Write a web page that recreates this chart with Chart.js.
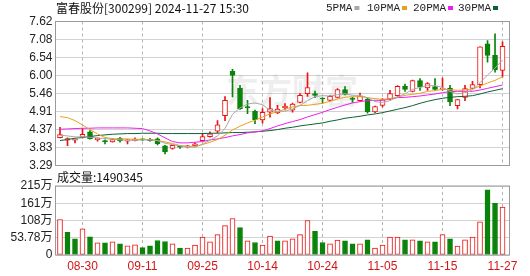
<!DOCTYPE html>
<html>
<head>
<meta charset="utf-8">
<script src="https://cdn.jsdelivr.net/npm/chart.js@4.4.1/dist/chart.umd.min.js"></script>
<style>
    body { margin: 0; background: #fff; }
    #wrap { position: relative; width: 530px; height: 276px; }
    #kline { position: absolute; left: 0; top: 0; }
    #vol { position: absolute; left: 0; top: 170px; }
</style>
</head>
<body>
<div id="wrap">
    <canvas id="kline" width="530" height="170"></canvas>
    <canvas id="vol" width="530" height="106"></canvas>
</div>
<script>
var title = '富春股份[300299] 2024-11-27 15:30';

var dates = ['08-27','08-28','08-29','08-30','09-02','09-03','09-04','09-05','09-06','09-09',
    '09-10','09-11','09-12','09-13','09-18','09-19','09-20','09-23','09-24','09-25',
    '09-26','09-27','09-30','10-08','10-09','10-10','10-11','10-14','10-15','10-16',
    '10-17','10-18','10-21','10-22','10-23','10-24','10-25','10-28','10-29','10-30',
    '10-31','11-01','11-04','11-05','11-06','11-07','11-08','11-11','11-12','11-13',
    '11-14','11-15','11-18','11-19','11-20','11-21','11-22','11-25','11-26','11-27'];

var tickDates = ['08-30','09-11','09-25','10-14','10-24','11-05','11-15','11-27'];

var opens = [4.13,4.05,4.05,4.14,4.30,4.07,4.03,4.00,4.11,4.02, 4.04,4.07,4.08,4.09,3.88,3.80,3.86,3.85,3.89,4.04,
    4.16,4.32,4.79,6.12,5.62,5.06,4.92,4.66,4.89,4.87, 5.02,4.95,5.19,5.45,5.45,5.31,5.25,5.34,5.57,5.30,
    5.24,5.29,4.90,5.10,5.29,5.39,5.68,5.52,5.84,5.62, 5.66,5.58,5.62,5.09,5.34,5.61,5.72,6.95,6.60,6.15];
var closes = [4.22,4.10,4.06,4.23,4.10,4.11,4.01,4.07,4.03,4.06, 4.08,4.06,4.04,3.95,3.70,3.90,3.84,3.88,3.94,4.16,
    4.24,4.51,5.25,6.00,5.00,5.02,4.67,4.89,5.00,4.99, 5.08,5.14,5.40,5.63,5.40,5.29,5.37,5.57,5.43,5.28,
    5.38,4.91,5.06,5.27,5.45,5.67,5.58,5.84,5.65,5.75, 5.58,5.59,5.20,5.27,5.60,5.72,6.86,6.60,6.17,6.87];
var highs = [4.44,4.12,4.09,4.41,4.34,4.12,4.06,4.10,4.14,4.08, 4.12,4.09,4.11,4.12,3.90,3.91,3.88,3.90,3.97,4.26,
    4.30,4.64,5.36,6.18,5.70,5.25,4.96,5.00,5.33,5.10, 5.15,5.17,5.45,6.08,5.53,5.33,5.39,5.60,5.66,5.34,
    5.47,5.32,5.08,5.30,5.55,5.69,5.74,5.86,5.90,5.78, 5.90,5.92,5.70,5.28,5.70,5.82,6.86,7.05,7.25,7.01];
var lows = [4.12,3.89,3.97,4.12,4.08,4.02,3.94,3.99,3.99,3.94, 4.03,4.04,4.02,3.91,3.64,3.78,3.80,3.82,3.87,4.03,
    4.14,4.28,4.64,5.35,4.98,4.85,4.55,4.56,4.74,4.85, 4.96,4.89,5.17,5.37,5.33,5.16,5.23,5.32,5.41,5.19,
    5.22,4.86,4.88,5.05,5.27,5.37,5.52,5.50,5.55,5.55, 5.56,5.55,5.09,4.99,5.24,5.60,5.62,6.40,6.10,5.95];

var ma5 = [4.20,4.18,4.15,4.15,4.14,4.12,4.10,4.08,4.06,4.05, 4.05,4.06,4.06,4.04,3.96,3.92,3.88,3.84,3.84,3.93,
    4.05,4.18,4.40,4.83,5.02,5.14,5.17,5.12,4.95,4.92, 4.92,4.99,5.10,5.24,5.36,5.39,5.38,5.42,5.45,5.40,
    5.40,5.33,5.21,5.19,5.24,5.35,5.45,5.58,5.64,5.69, 5.69,5.64,5.52,5.44,5.48,5.56,5.78,6.01,6.22,6.46];
var ma10 = [4.76,4.73,4.64,4.51,4.37,4.24,4.13,4.10,4.09,4.09, 4.08,4.08,4.07,4.04,4.00,3.95,3.89,3.87,3.87,3.92,
    3.99,4.07,4.20,4.36,4.47,4.57,4.65,4.75,4.84,4.91, 4.98,5.05,5.09,5.10,5.13,5.16,5.22,5.29,5.34,5.36,
    5.36,5.33,5.30,5.28,5.30,5.35,5.40,5.43,5.46,5.52, 5.54,5.58,5.57,5.55,5.56,5.59,5.68,5.77,5.85,5.96];
var ma20 = [4.38,4.39,4.40,4.41,4.41,4.42,4.42,4.42,4.42,4.42, 4.41,4.40,4.33,4.24,4.12,4.01,3.97,3.97,3.99,4.01,
    4.06,4.09,4.13,4.18,4.22,4.27,4.30,4.33,4.40,4.48, 4.55,4.61,4.67,4.75,4.82,4.89,4.97,5.04,5.11,5.17,
    5.21,5.24,5.25,5.25,5.29,5.33,5.34,5.36,5.38,5.41, 5.44,5.48,5.51,5.52,5.52,5.52,5.56,5.61,5.66,5.71];
var ma30 = [4.04,4.07,4.11,4.13,4.16,4.19,4.21,4.23,4.24,4.25, 4.25,4.26,4.26,4.26,4.25,4.25,4.25,4.25,4.25,4.25,
    4.26,4.26,4.27,4.28,4.28,4.29,4.30,4.32,4.34,4.37, 4.41,4.44,4.48,4.51,4.54,4.57,4.62,4.66,4.71,4.74,
    4.77,4.81,4.84,4.88,4.93,4.98,5.03,5.09,5.16,5.22, 5.27,5.31,5.34,5.36,5.37,5.39,5.44,5.50,5.55,5.60];

// volume in 万 (10k shares)
var volumes = [110.7,70.5,50.6,81.3,56.9,38,38,41,34.8,28.5, 31.6,23.1,28.5,45.2,42,34.8,21.2,21.2,30.7,56,
    41.1,63.3,91.7,113.9,85.4,44.3,38.9,30.7,59.2,44.3, 44.3,50.6,63.3,107.6,73.7,38.9,34.8,46.5,44.3,34.8,
    34.8,47.5,21.2,30.7,56,56,47.5,47.5,44.3,41.1, 41.1,63.3,50.6,27.5,47.5,56,103.4,203.4,161.3,149.0345];

var priceTicks = [3.29, 3.83, 4.37, 4.91, 5.46, 6.00, 6.54, 7.08, 7.62];
var volTicks = [0, 53.78, 107.56, 161.34, 215.12];
var volTickLabels = ['0', '53.78万', '108万', '161万', '215万'];

var maNames = ['5PMA', '10PMA', '20PMA', '30PMA'];
var maColors = ['#a8a8a8', '#e9a21c', '#ee1fee', '#0c6234'];

var RED = '#ec1111';
var GREEN = '#0a830a';
var AXIS_FONT = '"Liberation Sans", "Noto Sans CJK SC", sans-serif';

/**
 * ------------------------------------------------------------------------
 *  Helpers
 * ------------------------------------------------------------------------
 */
var tickIdx = tickDates.map(function (d) { return dates.indexOf(d); });

function candleUp(i) {
    return closes[i] >= opens[i];
}

function volumeUp(i) {
    return i === 0 ? closes[0] >= opens[0] : closes[i] >= closes[i - 1];
}

function points(arr) {
    return arr.map(function (v, i) { return { x: i, y: v }; });
}

function xScale(showLabels) {
    return {
        type: 'linear',
        min: -0.6,
        max: 59.93,
        offset: false,
        afterBuildTicks: function (axis) {
            axis.ticks = tickIdx.map(function (v) { return { value: v }; });
        },
        afterFit: function (axis) {
            axis.height = showLabels ? 21 : 0;
        },
        ticks: {
            display: showLabels,
            autoSkip: false,
            maxRotation: 0,
            padding: 4,
            color: '#d41515',
            font: { family: AXIS_FONT, size: 12 },
            callback: function (v) { return dates[v]; }
        },
        grid: { color: '#b4b4b4', drawTicks: false, offset: false },
        border: { display: false, dash: [3, 3] }
    };
}

function yScale(min, max, values, label) {
    return {
        min: min,
        max: max,
        afterBuildTicks: function (axis) {
            axis.ticks = values.map(function (v) { return { value: v }; });
        },
        afterFit: function (axis) {
            axis.width = 55.5;
            axis.paddingTop = 0;
            axis.paddingBottom = 0;
        },
        ticks: {
            padding: 3,
            autoSkip: false,
            color: '#222',
            font: { family: AXIS_FONT, size: 12 },
            callback: label
        },
        grid: { color: '#d2d2d2', drawTicks: false },
        border: { display: false }
    };
}

var framePlugin = {
    id: 'frame',
    afterDraw: function (chart) {
        var a = chart.chartArea;
        var ctx = chart.ctx;
        ctx.save();
        ctx.strokeStyle = '#9a9a9a';
        ctx.lineWidth = 1;
        ctx.strokeRect(a.left, a.top, a.right - a.left, a.bottom - a.top);
        ctx.restore();
    }
};

var watermarkPlugin = {
    id: 'watermark',
    beforeDatasetsDraw: function (chart) {
        var ctx = chart.ctx;
        ctx.save();
        ctx.fillStyle = 'rgba(150,150,150,0.16)';
        ctx.font = 'bold 33px "Noto Sans CJK SC"';
        ctx.textBaseline = 'middle';
        ctx.fillText('东方财富', 226, 90);
        ctx.restore();
    }
};

var headerPlugin = {
    id: 'header',
    afterDraw: function (chart) {
        var ctx = chart.ctx;
        var legendX = [326, 367, 413, 458];
        ctx.save();
        ctx.textBaseline = 'middle';
        ctx.fillStyle = '#111';
        ctx.font = '12px "Noto Sans CJK SC"';
        ctx.fillText(title, 56, 8);

        ctx.font = '11px "Liberation Mono"';
        maNames.forEach(function (name, k) {
            ctx.fillStyle = '#222';
            ctx.fillText(name, legendX[k], 8.5);
            var w = ctx.measureText(name).width;
            ctx.fillStyle = maColors[k];
            ctx.fillRect(legendX[k] + w + 2, 6, 5, 4);
        });
        ctx.restore();
    }
};

var volHeaderPlugin = {
    id: 'volHeader',
    afterDraw: function (chart) {
        var ctx = chart.ctx;
        ctx.save();
        ctx.textBaseline = 'middle';
        ctx.fillStyle = '#111';
        ctx.font = '12px "Noto Sans CJK SC"';
        ctx.fillText('成交量:' + Math.round(volumes[volumes.length - 1] * 10000), 57, 7);
        ctx.restore();
    }
};

/**
 * ------------------------------------------------------------------------
 *  Price chart
 * ------------------------------------------------------------------------
 */
var maSets = [ma5, ma10, ma20, ma30].map(function (arr, k) {
    return {
        type: 'line',
        label: maNames[k],
        data: points(arr),
        borderColor: maColors[k],
        borderWidth: 1,
        pointRadius: 0,
        tension: 0,
        fill: false,
        order: 0
    };
});

new Chart(document.getElementById('kline'), {
    type: 'bar',
    data: {
        datasets: maSets.concat([
            {
                label: 'body',
                data: opens.map(function (o, i) { return { x: i, y: [o, closes[i]] }; }),
                backgroundColor: opens.map(function (o, i) { return candleUp(i) ? '#fff' : GREEN; }),
                borderColor: opens.map(function (o, i) { return candleUp(i) ? RED : GREEN; }),
                borderWidth: 1,
                borderSkipped: false,
                barThickness: 5,
                minBarLength: 1,
                grouped: false,
                order: 1
            },
            {
                label: 'wick',
                data: lows.map(function (l, i) { return { x: i, y: [l, highs[i]] }; }),
                backgroundColor: opens.map(function (o, i) { return candleUp(i) ? RED : GREEN; }),
                borderWidth: 0,
                barThickness: 1,
                grouped: false,
                order: 2
            }
        ])
    },
    options: {
        responsive: false,
        animation: false,
        events: [],
        layout: { padding: { left: 0, right: 20.5, top: 21.5, bottom: 4.5 } },
        plugins: { legend: { display: false }, tooltip: { enabled: false } },
        scales: {
            x: xScale(false),
            y: yScale(3.29, 7.62, priceTicks, function (v) { return v.toFixed(2); })
        }
    },
    plugins: [watermarkPlugin, framePlugin, headerPlugin]
});

/**
 * ------------------------------------------------------------------------
 *  Volume chart
 * ------------------------------------------------------------------------
 */
new Chart(document.getElementById('vol'), {
    type: 'bar',
    data: {
        datasets: [{
            label: 'volume',
            data: points(volumes),
            backgroundColor: volumes.map(function (v, i) { return volumeUp(i) ? '#fff' : GREEN; }),
            borderColor: volumes.map(function (v, i) { return volumeUp(i) ? RED : GREEN; }),
            borderWidth: 1,
            borderSkipped: false,
            barThickness: 5,
            grouped: false
        }]
    },
    options: {
        responsive: false,
        animation: false,
        events: [],
        layout: { padding: { left: 0, right: 20.5, top: 16, bottom: 0 } },
        plugins: { legend: { display: false }, tooltip: { enabled: false } },
        scales: {
            x: xScale(true),
            y: yScale(0, 215.12, volTicks, function (v, idx) { return volTickLabels[idx]; })
        }
    },
    plugins: [framePlugin, volHeaderPlugin]
});
</script>
</body>
</html>
